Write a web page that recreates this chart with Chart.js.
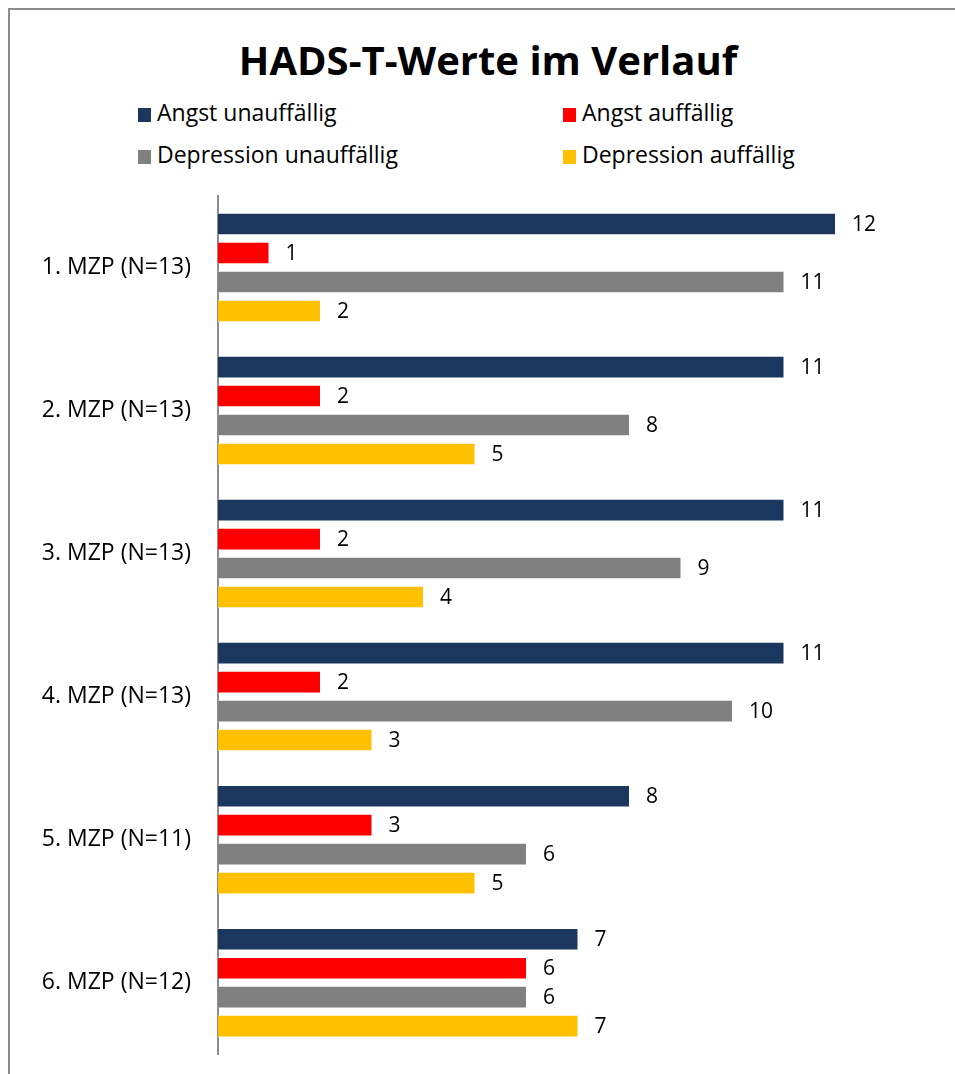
<!DOCTYPE html>
<html>
<head>
<meta charset="utf-8">
<script src="https://cdn.jsdelivr.net/npm/chart.js@4.4.0/dist/chart.umd.min.js"></script>
<style>
  body { margin: 0; background: #fff; font-family: "Open Sans", sans-serif; overflow: hidden; }
  #frame { position: absolute; left: 8px; top: 8px; width: 960px; height: 1080px; border: 2px solid #8c8c8c; box-sizing: border-box; }
  #title { position: absolute; left: 0; width: 976px; top: 32px; text-align: center; font-size: 40px; font-weight: bold; color: #000; }
  .leg { position: absolute; font-size: 23px; color: #000; white-space: nowrap; }
  .leg span.box { display: inline-block; width: 13px; height: 14px; margin-right: 6px; vertical-align: -1px; }
  #wrap { position: absolute; left: 0; top: 0; width: 955px; height: 1087px; }
</style>
</head>
<body>
<div id="frame"></div>
<div id="title">HADS-T-Werte im Verlauf</div>
<div id="legend"></div>
<div id="wrap"><canvas id="myChart"></canvas></div>
<script>
const categories = ['1. MZP (N=13)', '2. MZP (N=13)', '3. MZP (N=13)', '4. MZP (N=13)', '5. MZP (N=11)', '6. MZP (N=12)'];
const seriesNames = ['Angst unauffällig', 'Angst auffällig', 'Depression unauffällig', 'Depression auffällig'];
const angstUnauffaellig = [12, 11, 11, 11, 8, 7];
const angstAuffaellig = [1, 2, 2, 2, 3, 6];
const depressionUnauffaellig = [11, 8, 9, 10, 6, 6];
const depressionAuffaellig = [2, 5, 4, 3, 5, 7];
const colors = ['#1b375e', '#ff0000', '#808080', '#ffc000'];

const values = [angstUnauffaellig, angstAuffaellig, depressionUnauffaellig, depressionAuffaellig];

// legend in two columns like the original
const legendPos = [[138, 96], [563, 96], [138, 138], [563, 138]];
const legendEl = document.getElementById('legend');
seriesNames.forEach((name, i) => {
  let d = document.createElement('div');
  d.className = 'leg';
  d.style.left = legendPos[i][0] + 'px';
  d.style.top = legendPos[i][1] + 'px';
  d.innerHTML = '<span class="box" style="background:' + colors[i] + '"></span>' + name;
  legendEl.appendChild(d);
});

const valueLabels = {
  id: 'valueLabels',
  afterDatasetsDraw(chart) {
    const ctx = chart.ctx;
    ctx.save();
    ctx.font = '21px "Open Sans"';
    ctx.fillStyle = '#000';
    ctx.textAlign = 'left';
    ctx.textBaseline = 'middle';
    chart.data.datasets.forEach((ds, i) => {
      chart.getDatasetMeta(i).data.forEach((bar, j) => {
        ctx.fillText(ds.data[j], bar.x + 16, bar.y + 1);
      });
    });
    ctx.restore();
  }
};

let ctx = document.getElementById('myChart').getContext('2d');
let chartGraph = new Chart(ctx, {
  type: 'bar',
  data: {
    labels: categories,
    datasets: seriesNames.map((name, i) => ({
      label: name,
      data: values[i],
      backgroundColor: colors[i],
      borderColor: 'rgba(255,255,255,0.6)',
      borderWidth: 1,
      barPercentage: 0.78,
      categoryPercentage: 0.81
    }))
  },
  options: {
    indexAxis: 'y',
    responsive: true,
    maintainAspectRatio: false,
    animation: false,
    layout: { padding: { top: 196, bottom: 2, right: 16, left: 8 } },
    plugins: {
      legend: { display: false },
      title: { display: false },
      tooltip: { enabled: false }
    },
    scales: {
      x: {
        display: false,
        min: 0,
        max: 14
      },
      y: {
        afterFit(scale) { scale.width = 210; },
        grid: { display: false },
        border: { display: true, color: '#8c8c8c', width: 2 },
        ticks: { color: '#000', padding: 19, font: { family: 'Open Sans', size: 23 } }
      }
    }
  },
  plugins: [valueLabels]
});
</script>
</body>
</html>
